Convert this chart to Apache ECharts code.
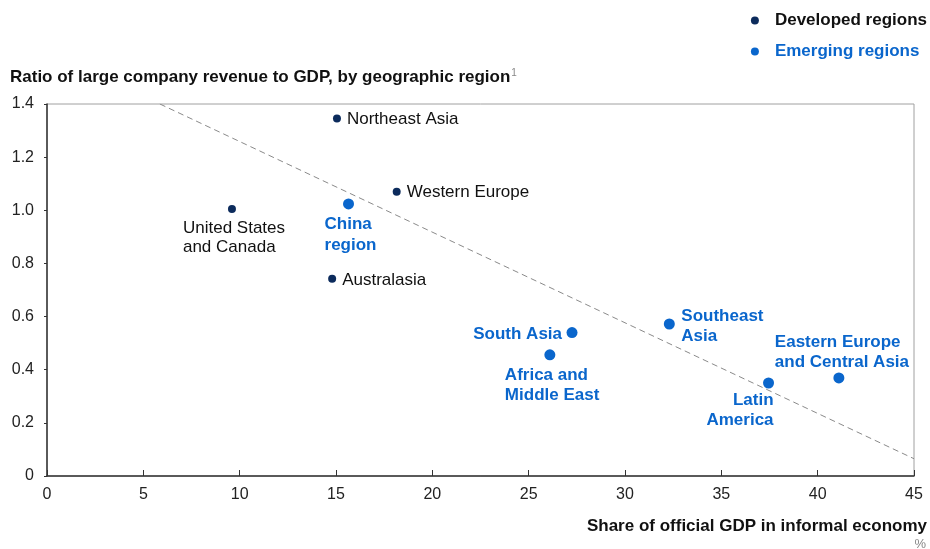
<!DOCTYPE html>
<html>
<head>
<meta charset="utf-8">
<script src="https://cdn.jsdelivr.net/npm/echarts@6/dist/echarts.min.js"></script>
<style>html,body{margin:0;padding:0;background:#fff;}#c{width:930px;height:549px;}</style>
</head>
<body>
<div id="c"></div>
<script>
// ---- data ----
const developedNames = ['United States\nand Canada', 'Northeast Asia', 'Western Europe', 'Australasia'];
const developedX = [9.6, 15.05, 18.15, 14.8];
const developedY = [1.005, 1.345, 1.07, 0.742];

const emergingNames = ['China\nregion', 'South Asia', 'Africa and\nMiddle East', 'Southeast\nAsia', 'Latin\nAmerica', 'Eastern Europe\nand Central Asia'];
const emergingX = [15.65, 27.25, 26.1, 32.3, 37.45, 41.1];
const emergingY = [1.024, 0.54, 0.456, 0.572, 0.35, 0.369];

const trendX = [5.86, 45];
const trendY = [1.4, 0.065];

const xTicks = [0, 5, 10, 15, 20, 25, 30, 35, 40, 45];
const yTicks = [0, 0.2, 0.4, 0.6, 0.8, 1.0, 1.2, 1.4];

// ---- styling / layout ----
const FONT = '"Liberation Sans", Arial, sans-serif';
const NAVY = '#0c2b5c';
const BLUE = '#0a66cc';
const FS = 17;

const labelLayout = {
  'United States\nand Canada': {align: 'left', verticalAlign: 'top', offset: [-49, 10], lineHeight: 19},
  'Northeast Asia': {align: 'left', verticalAlign: 'middle', offset: [10, 1]},
  'Western Europe': {align: 'left', verticalAlign: 'middle', offset: [10, 1]},
  'Australasia': {align: 'left', verticalAlign: 'middle', offset: [10, 1]},
  'China\nregion': {align: 'left', verticalAlign: 'top', offset: [-24, 10], lineHeight: 21},
  'South Asia': {align: 'right', verticalAlign: 'middle', offset: [-10, 2]},
  'Africa and\nMiddle East': {align: 'left', verticalAlign: 'top', offset: [-45, 10], lineHeight: 20},
  'Southeast\nAsia': {align: 'left', verticalAlign: 'top', offset: [12, -18], lineHeight: 20},
  'Latin\nAmerica': {align: 'right', verticalAlign: 'top', offset: [5, 7], lineHeight: 20},
  'Eastern Europe\nand Central Asia': {align: 'left', verticalAlign: 'top', offset: [-64, -46], lineHeight: 20}
};

function buildPoints(names, xs, ys, color, bold) {
  return names.map((n, i) => {
    const l = labelLayout[n];
    return {
      name: n,
      value: [xs[i], ys[i]],
      label: {
        show: true,
        formatter: n,
        position: 'inside',
        align: l.align,
        verticalAlign: l.verticalAlign,
        offset: l.offset,
        lineHeight: l.lineHeight || 18,
        color: color,
        opacity: 1,
        fontWeight: bold ? 'bold' : 'normal',
        fontSize: FS,
        fontFamily: FONT
      }
    };
  });
}

const chart = echarts.init(document.getElementById('c'), null, {renderer: 'canvas'});
chart.setOption({
  animation: false,
  backgroundColor: '#fff',
  textStyle: {fontFamily: FONT},
  grid: {left: 47, right: 16, top: 104, bottom: 73, show: true, borderColor: '#a0a0a0', borderWidth: 1},
  legend: {
    orient: 'vertical',
    right: 3,
    top: 12,
    padding: 0,
    itemGap: 14,
    itemWidth: 8,
    itemHeight: 9,
    icon: 'circle',
    data: [
      {name: 'Developed regions', itemStyle: {opacity: 1}, textStyle: {color: '#111', fontWeight: 'bold', fontSize: FS, fontFamily: FONT, padding: [0, 0, 0, 11]}},
      {name: 'Emerging regions', itemStyle: {opacity: 1}, textStyle: {color: BLUE, fontWeight: 'bold', fontSize: FS, fontFamily: FONT, padding: [0, 0, 0, 11]}}
    ]
  },
  xAxis: {
    type: 'value', min: xTicks[0], max: xTicks[xTicks.length - 1], interval: 5,
    axisLine: {show: true, lineStyle: {color: '#333', width: 1.5}},
    axisTick: {show: true, inside: true, length: 6, lineStyle: {color: '#333'}},
    axisLabel: {color: '#222', fontSize: 16, fontFamily: FONT, margin: 11},
    splitLine: {show: false}
  },
  yAxis: {
    type: 'value', min: yTicks[0], max: yTicks[yTicks.length - 1], interval: 0.2,
    axisLine: {show: true, lineStyle: {color: '#333', width: 1.5}},
    axisTick: {show: true, inside: false, length: 3, lineStyle: {color: '#333'}},
    axisLabel: {color: '#222', fontSize: 16, fontFamily: FONT, margin: 13,
      formatter: v => v === 0 ? '0' : v.toFixed(1)},
    splitLine: {show: false}
  },
  series: [
    {
      type: 'line', name: 'trend', silent: true, symbol: 'none',
      data: trendX.map((x, i) => [x, trendY[i]]),
      lineStyle: {color: '#8a8a8a', width: 1, type: [6, 4]},
      z: 1
    },
    {
      type: 'scatter', name: 'Developed regions', symbolSize: 8,
      itemStyle: {color: NAVY, opacity: 1},
      data: buildPoints(developedNames, developedX, developedY, '#111', false),
      z: 3
    },
    {
      type: 'scatter', name: 'Emerging regions', symbolSize: 11,
      itemStyle: {color: BLUE, opacity: 1},
      data: buildPoints(emergingNames, emergingX, emergingY, BLUE, true),
      z: 3
    }
  ],
  graphic: [
    {
      type: 'text', left: 10, top: 68,
      style: {
        text: '{t|Ratio of large company revenue to GDP, by geographic region}{s|1}',
        rich: {
          t: {fontSize: FS, fontWeight: 'bold', fill: '#111', fontFamily: FONT},
          s: {fontSize: 10, fill: '#888', fontFamily: FONT, verticalAlign: 'top', padding: [0, 0, 9, 1]}
        }
      }
    },
    {
      type: 'text', right: 3, top: 518,
      style: {text: 'Share of official GDP in informal economy', fontSize: FS, fontWeight: 'bold', fill: '#111', fontFamily: FONT}
    },
    {
      type: 'text', right: 4, top: 538,
      style: {text: '%', fontSize: 13, fill: '#888', fontFamily: FONT}
    }
  ]
});
</script>
</body>
</html>
